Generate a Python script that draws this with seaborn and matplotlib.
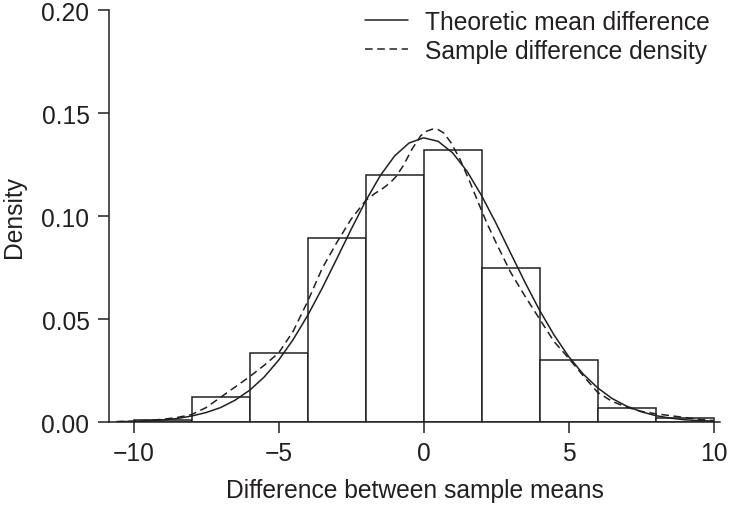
import numpy as np
import pandas as pd
import seaborn as sns
import matplotlib
matplotlib.use("Agg")
import matplotlib.pyplot as plt

# histogram of differences (density per bin, bin width 2)
bin_edges = [-10, -8, -6, -4, -2, 0, 2, 4, 6, 8, 10]
bin_density = [0.0008, 0.0120, 0.0335, 0.0892, 0.1199, 0.1322, 0.0746, 0.0301, 0.0066, 0.0018]

# theoretic mean difference curve
theo_x = [-10.5, -10, -9.5, -9, -8.5, -8, -7.5, -7, -6.5, -6, -5.5, -5, -4.5, -4,
          -3.5, -3, -2.5, -2, -1.5, -1, -0.5, 0, 0.5, 1, 1.5, 2, 2.5, 3, 3.5, 4,
          4.5, 5, 5.5, 6, 6.5, 7, 7.5, 8, 8.5, 9, 9.5, 10]
theo_y = [0.0002, 0.0003, 0.0006, 0.0010, 0.0017, 0.0029, 0.0046, 0.0070, 0.0106,
          0.0154, 0.0218, 0.0300, 0.0400, 0.0517, 0.0649, 0.0791, 0.0935, 0.1073,
          0.1195, 0.1292, 0.1355, 0.1380, 0.1363, 0.1307, 0.1217, 0.1099, 0.0964,
          0.0820, 0.0677, 0.0542, 0.0422, 0.0318, 0.0233, 0.0166, 0.0114, 0.0077,
          0.0050, 0.0031, 0.0019, 0.0011, 0.0007, 0.0004]

# sample difference density curve
samp_x = [-10.6, -10, -9.5, -9, -8.5, -8, -7.5, -7, -6.5, -6, -5.5, -5, -4.5, -4,
          -3.5, -3, -2.5, -2, -1.7, -1.4, -1.15, -0.95, -0.7, -0.4, -0.1, 0.1, 0.3,
          0.5, 0.7, 0.95, 1.25, 1.6, 1.9, 2.2, 2.5, 3, 3.5, 4, 4.5, 5, 5.5, 6, 6.5,
          7, 7.5, 8, 8.5, 9, 9.5, 10]
samp_y = [0.0002, 0.0004, 0.0008, 0.0013, 0.0022, 0.0036, 0.0070, 0.0120, 0.0170,
          0.0220, 0.0275, 0.0335, 0.0440, 0.0585, 0.0745, 0.0870, 0.0985, 0.1075,
          0.1108, 0.1135, 0.1162, 0.1192, 0.1245, 0.1325, 0.1390, 0.1412, 0.1422,
          0.1420, 0.1403, 0.1355, 0.1277, 0.1164, 0.1060, 0.0960, 0.0870, 0.0727,
          0.0610, 0.0500, 0.0390, 0.0310, 0.0225, 0.0144, 0.0100, 0.0072, 0.0052,
          0.0040, 0.0031, 0.0022, 0.0013, 0.0007]

x_ticks = [-10, -5, 0, 5, 10]
y_ticks = [0.00, 0.05, 0.10, 0.15, 0.20]

ink = "#231f20"
fs = 17.7
sns.set_style("ticks")
plt.rcParams["font.family"] = ["Liberation Sans", "DejaVu Sans"]
plt.rcParams["text.color"] = ink
plt.rcParams["axes.labelcolor"] = ink
plt.rcParams["xtick.color"] = ink
plt.rcParams["ytick.color"] = ink

fig = plt.figure(figsize=(7.31, 5.06), dpi=100)
ax = fig.add_axes([0.149, 0.164, 0.836, 0.814])

centers = [(a + b) / 2 for a, b in zip(bin_edges[:-1], bin_edges[1:])]
sns.histplot(x=centers, weights=bin_density, bins=bin_edges, stat="count",
             color="white", edgecolor=ink, linewidth=1.1, alpha=1, ax=ax)

theo = pd.DataFrame({"x": theo_x, "y": theo_y})
samp = pd.DataFrame({"x": samp_x, "y": samp_y})
sns.lineplot(data=theo, x="x", y="y", color=ink, linewidth=1.1, ax=ax,
             label="Theoretic mean difference")
sns.lineplot(data=samp, x="x", y="y", color=ink, linewidth=1.1, ax=ax,
             dashes=False, label="Sample difference density")
ax.lines[-1].set_dashes((5, 3))

ax.set_xlim(-10.85, 10.22)
ax.set_ylim(0, 0.2)
ax.set_xticks(x_ticks)
ax.set_xticklabels([str(t).replace("-", "\u2212") for t in x_ticks])
ax.set_yticks(y_ticks)
ax.set_yticklabels([f"{t:.2f}" for t in y_ticks])
ax.tick_params(labelsize=fs, length=8, width=1.1, direction="out", pad=6)
ax.set_xlabel("Difference between sample means", fontsize=fs, labelpad=9)
ax.set_ylabel("Density", fontsize=fs, labelpad=11)

sns.despine(ax=ax)
for s in ["left", "bottom"]:
    ax.spines[s].set_linewidth(1.1)
    ax.spines[s].set_color(ink)

leg = ax.legend(loc="upper right", bbox_to_anchor=(1.0, 1.025), frameon=False,
                fontsize=fs, handlelength=1.75, handletextpad=0.7,
                labelspacing=0.22, borderaxespad=0)

fig.savefig("out.png", dpi=100)
